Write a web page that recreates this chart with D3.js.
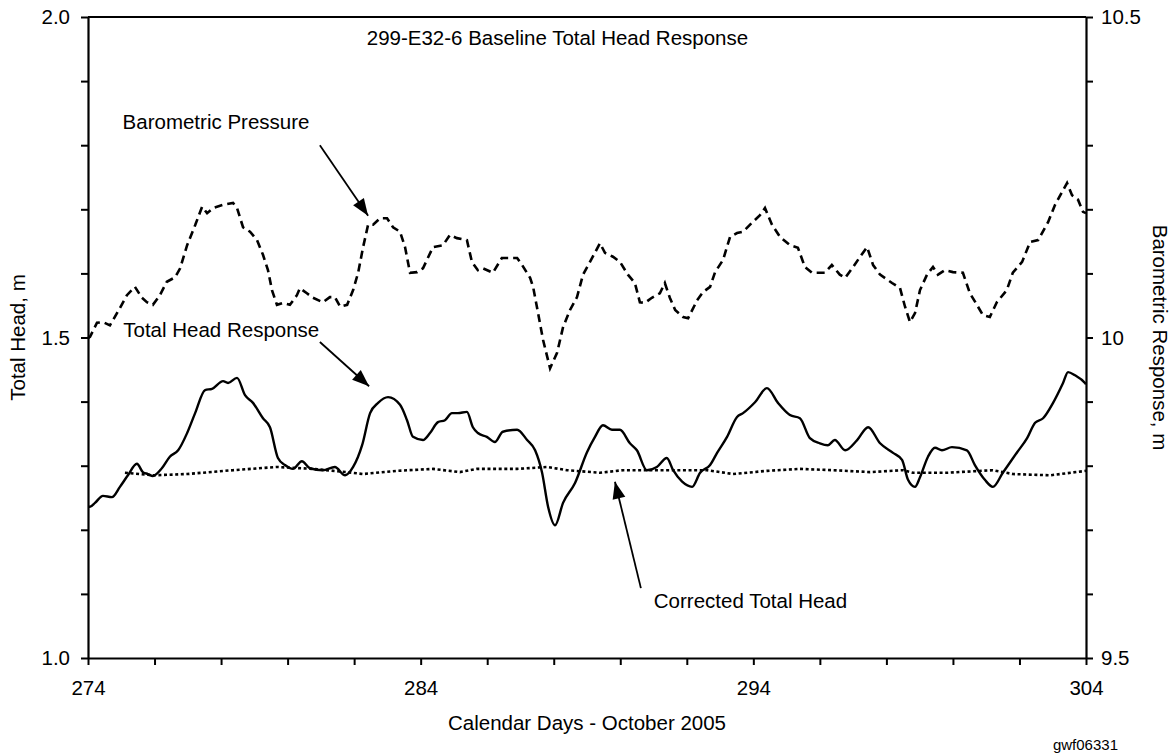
<!DOCTYPE html>
<html>
<head>
<meta charset="utf-8">
<script src="https://cdn.jsdelivr.net/npm/d3@7"></script>
<style>
  html, body { margin: 0; padding: 0; background: #fff; }
  svg text { font-family: "Liberation Sans", Arial, sans-serif; fill: #000; }
</style>
</head>
<body>
<svg id="chart" width="1175" height="754"></svg>
<script>
// Well 299-E32-6, October 2005 (calendar days 274-304)

// Barometric pressure response (right axis, m)
const baroDays = [274.00,274.06,274.27,274.45,274.66,274.75,274.96,275.17,275.41,275.62,275.77,275.95,276.16,276.37,276.62,276.77,276.98,277.22,277.43,277.58,277.76,278.06,278.36,278.48,278.66,278.87,279.08,279.26,279.41,279.53,279.68,279.86,280.07,280.28,280.37,280.58,280.76,281.06,281.27,281.42,281.58,281.79,281.97,282.12,282.27,282.42,282.57,282.78,282.99,283.17,283.38,283.53,283.68,283.89,284.07,284.37,284.67,284.88,285.09,285.39,285.54,285.72,285.87,286.17,286.44,286.75,286.90,287.05,287.29,287.38,287.53,287.68,287.89,288.10,288.28,288.49,288.70,288.88,289.09,289.39,289.54,289.78,289.99,290.23,290.44,290.59,290.74,290.95,291.19,291.34,291.49,291.65,291.89,292.04,292.31,292.49,292.70,292.85,293.09,293.30,293.51,293.69,293.96,294.20,294.35,294.56,294.80,295.10,295.34,295.55,295.76,296.15,296.36,296.60,296.76,297.00,297.21,297.42,297.60,297.81,298.17,298.41,298.56,298.71,298.86,299.01,299.22,299.40,299.55,299.76,300.00,300.30,300.51,300.72,300.90,301.11,301.32,301.62,301.80,302.08,302.32,302.56,302.86,303.07,303.28,303.43,303.58,303.76,303.91,304.00];
const baroValues = [9.999,10.001,10.023,10.024,10.019,10.027,10.046,10.066,10.079,10.062,10.055,10.051,10.066,10.087,10.094,10.108,10.144,10.175,10.204,10.194,10.202,10.207,10.210,10.202,10.172,10.165,10.152,10.129,10.105,10.074,10.051,10.054,10.051,10.066,10.077,10.069,10.062,10.055,10.063,10.063,10.048,10.051,10.074,10.101,10.141,10.176,10.176,10.186,10.186,10.172,10.165,10.141,10.101,10.102,10.108,10.141,10.144,10.160,10.155,10.152,10.118,10.105,10.108,10.101,10.124,10.124,10.124,10.113,10.093,10.079,10.038,9.996,9.952,9.976,10.016,10.043,10.063,10.098,10.118,10.147,10.132,10.126,10.118,10.098,10.085,10.055,10.054,10.062,10.069,10.085,10.062,10.043,10.032,10.030,10.058,10.071,10.079,10.102,10.121,10.157,10.163,10.165,10.179,10.191,10.202,10.176,10.157,10.144,10.140,10.110,10.101,10.101,10.113,10.098,10.093,10.110,10.126,10.141,10.113,10.098,10.085,10.077,10.048,10.024,10.038,10.074,10.098,10.110,10.098,10.105,10.102,10.101,10.069,10.051,10.035,10.032,10.055,10.074,10.101,10.118,10.149,10.152,10.180,10.207,10.227,10.241,10.222,10.215,10.196,10.194];

// Measured total head (left axis, m)
const headDays = [274.00,274.06,274.21,274.45,274.72,274.96,275.20,275.47,275.65,275.80,275.95,276.22,276.46,276.71,276.98,277.22,277.52,277.73,278.06,278.21,278.48,278.72,278.96,279.26,279.47,279.71,279.92,280.16,280.43,280.67,281.06,281.42,281.73,281.97,282.24,282.48,282.72,283.02,283.38,283.59,283.77,284.07,284.28,284.52,284.73,284.94,285.12,285.39,285.57,285.72,285.99,286.23,286.47,286.90,287.20,287.44,287.65,287.83,288.04,288.28,288.64,289.00,289.24,289.48,289.75,289.99,290.29,290.50,290.80,291.10,291.40,291.59,291.86,292.16,292.40,292.70,292.91,293.21,293.51,293.69,294.05,294.41,294.74,295.10,295.40,295.70,296.00,296.24,296.45,296.76,297.12,297.45,297.81,298.20,298.47,298.65,298.86,299.01,299.25,299.46,299.67,299.97,300.42,300.66,300.96,301.20,301.50,301.93,302.23,302.47,302.71,303.01,303.31,303.46,303.67,303.97,304.00];
const headValues = [1.236,1.236,1.242,1.253,1.251,1.267,1.285,1.303,1.290,1.287,1.284,1.296,1.314,1.324,1.351,1.382,1.418,1.420,1.432,1.429,1.437,1.410,1.398,1.374,1.360,1.312,1.301,1.295,1.307,1.296,1.293,1.298,1.285,1.298,1.332,1.382,1.398,1.407,1.395,1.371,1.345,1.340,1.351,1.368,1.371,1.382,1.382,1.384,1.360,1.351,1.345,1.337,1.353,1.356,1.340,1.324,1.289,1.236,1.207,1.242,1.273,1.321,1.345,1.363,1.356,1.356,1.335,1.324,1.293,1.298,1.312,1.293,1.275,1.267,1.289,1.301,1.320,1.345,1.376,1.382,1.399,1.421,1.398,1.379,1.374,1.343,1.335,1.332,1.340,1.324,1.340,1.360,1.335,1.320,1.309,1.278,1.267,1.282,1.314,1.328,1.324,1.329,1.324,1.301,1.278,1.267,1.289,1.321,1.343,1.367,1.374,1.398,1.429,1.446,1.441,1.429,1.427];

// Total head corrected for barometric effects (left axis, m)
const corrDays = [275.11,275.95,276.98,278.36,279.68,280.76,281.79,282.27,283.29,284.37,285.18,285.69,286.90,287.80,288.40,289.39,290.08,291.89,292.61,293.39,294.41,295.40,296.39,297.51,298.50,298.80,299.82,301.20,301.80,302.92,304.00];
const corrValues = [1.289,1.285,1.287,1.293,1.298,1.295,1.290,1.287,1.292,1.295,1.290,1.295,1.295,1.298,1.293,1.289,1.293,1.293,1.293,1.287,1.292,1.295,1.293,1.290,1.293,1.289,1.289,1.293,1.287,1.285,1.292];

// Axis ticks
const xTicks = [274,276,278,280,282,284,286,288,290,292,294,296,298,300,302,304];
const xTickLabels = ["274","","","","","284","","","","","294","","","","","304"];
const leftTicks = [1.0,1.1,1.2,1.3,1.4,1.5,1.6,1.7,1.8,1.9,2.0];
const leftTickLabels = ["1.0","","","","","1.5","","","","","2.0"];
const rightTicks = [9.5,9.6,9.7,9.8,9.9,10.0,10.1,10.2,10.3,10.4,10.5];
const rightTickLabels = ["9.5","","","","","10","","","","","10.5"];

const svg = d3.select("#chart");
const W = 1175, H = 754;
const m = { left: 88, right: W - 1086, top: 17, bottom: H - 658 };
const FS = 20.5;

const x = d3.scaleLinear().domain([274, 304]).range([m.left, W - m.right]);
const yL = d3.scaleLinear().domain([1.0, 2.0]).range([H - m.bottom, m.top]);
const yR = d3.scaleLinear().domain([9.5, 10.5]).range([H - m.bottom, m.top]);

// Series
const plot = svg.append("g");
const lineHead = d3.line().x(d => x(d[0])).y(d => yL(d[1]));
const lineBaro = d3.line().x(d => x(d[0])).y(d => yR(d[1]));

plot.append("path")
  .datum(d3.zip(corrDays, corrValues))
  .attr("d", lineHead)
  .attr("fill", "none").attr("stroke", "#000")
  .attr("stroke-width", 2.6).attr("stroke-dasharray", "3 2.6");

plot.append("path")
  .datum(d3.zip(baroDays, baroValues))
  .attr("d", lineBaro)
  .attr("fill", "none").attr("stroke", "#000")
  .attr("stroke-width", 2.6).attr("stroke-dasharray", "8 5");

plot.append("path")
  .datum(d3.zip(headDays, headValues))
  .attr("d", lineHead.curve(d3.curveMonotoneX))
  .attr("fill", "none").attr("stroke", "#000")
  .attr("stroke-width", 2.4).attr("stroke-linejoin", "round");

// Axes
function styleAxis(g) {
  g.selectAll(".domain").attr("stroke", "#000").attr("stroke-width", 2.2);
  g.selectAll(".tick line").attr("stroke", "#000").attr("stroke-width", 2);
  g.selectAll(".tick text").attr("font-size", FS).attr("font-family", "Liberation Sans, Arial, sans-serif").attr("fill", "#000");
}

svg.append("g")
  .attr("transform", `translate(0,${H - m.bottom})`)
  .call(d3.axisBottom(x).tickValues(xTicks)
    .tickFormat((d, i) => xTickLabels[i]).tickSize(7).tickSizeOuter(0).tickPadding(15))
  .call(styleAxis);

svg.append("g")
  .attr("transform", `translate(${m.left},0)`)
  .call(d3.axisLeft(yL).tickValues(leftTicks)
    .tickFormat((d, i) => leftTickLabels[i]).tickSize(7).tickSizeOuter(0).tickPadding(11))
  .call(styleAxis);

svg.append("g")
  .attr("transform", `translate(${W - m.right},0)`)
  .call(d3.axisRight(yR).tickValues(rightTicks)
    .tickFormat((d, i) => rightTickLabels[i]).tickSize(7).tickSizeOuter(0).tickPadding(8))
  .call(styleAxis);

// Top frame line
svg.append("line")
  .attr("x1", m.left).attr("x2", W - m.right)
  .attr("y1", m.top).attr("y2", m.top)
  .attr("stroke", "#000").attr("stroke-width", 2.2);

// Axis titles
svg.append("text")
  .attr("x", (m.left + W - m.right) / 2).attr("y", 730)
  .attr("text-anchor", "middle").attr("font-size", FS)
  .text("Calendar Days - October 2005");

svg.append("text")
  .attr("transform", `translate(25,${(m.top + H - m.bottom) / 2}) rotate(-90)`)
  .attr("text-anchor", "middle").attr("font-size", FS)
  .text("Total Head, m");

svg.append("text")
  .attr("transform", `translate(1153,${(m.top + H - m.bottom) / 2}) rotate(90)`)
  .attr("text-anchor", "middle").attr("font-size", FS)
  .text("Barometric Response, m");

svg.append("text")
  .attr("x", 1118).attr("y", 750)
  .attr("text-anchor", "end").attr("font-size", 15)
  .text("gwf06331");

// Chart title inside the plot frame
svg.append("text")
  .attr("x", x(282.38)).attr("y", yL(1.956))
  .attr("font-size", FS)
  .text("299-E32-6 Baseline Total Head Response");

// Series annotations with arrows
const defs = svg.append("defs");
defs.append("marker")
  .attr("id", "arrowhead")
  .attr("viewBox", "-18 -7 18 14")
  .attr("refX", 0).attr("refY", 0)
  .attr("markerUnits", "userSpaceOnUse")
  .attr("markerWidth", 18).attr("markerHeight", 14)
  .attr("orient", "auto")
  .append("path")
  .attr("d", "M0,0 L-17,-6.5 L-17,6.5 Z")
  .attr("fill", "#000");

const notes = [
  { text: "Barometric Pressure", tx: 275.04, ty: 1.825, anchor: "start", from: [280.97, 1.800], to: [282.42, 1.690] },
  { text: "Total Head Response", tx: 275.06, ty: 1.501, anchor: "start", from: [280.97, 1.493], to: [282.45, 1.424] },
  { text: "Corrected Total Head", tx: 296.82, ty: 1.078, anchor: "end", from: [290.62, 1.109], to: [289.84, 1.275] }
];

notes.forEach(n => {
  svg.append("text")
    .attr("x", x(n.tx)).attr("y", yL(n.ty))
    .attr("text-anchor", n.anchor).attr("font-size", FS)
    .text(n.text);
  svg.append("line")
    .attr("x1", x(n.from[0])).attr("y1", yL(n.from[1]))
    .attr("x2", x(n.to[0])).attr("y2", yL(n.to[1]))
    .attr("stroke", "#000").attr("stroke-width", 1.8)
    .attr("marker-end", "url(#arrowhead)");
});
</script>
</body>
</html>
